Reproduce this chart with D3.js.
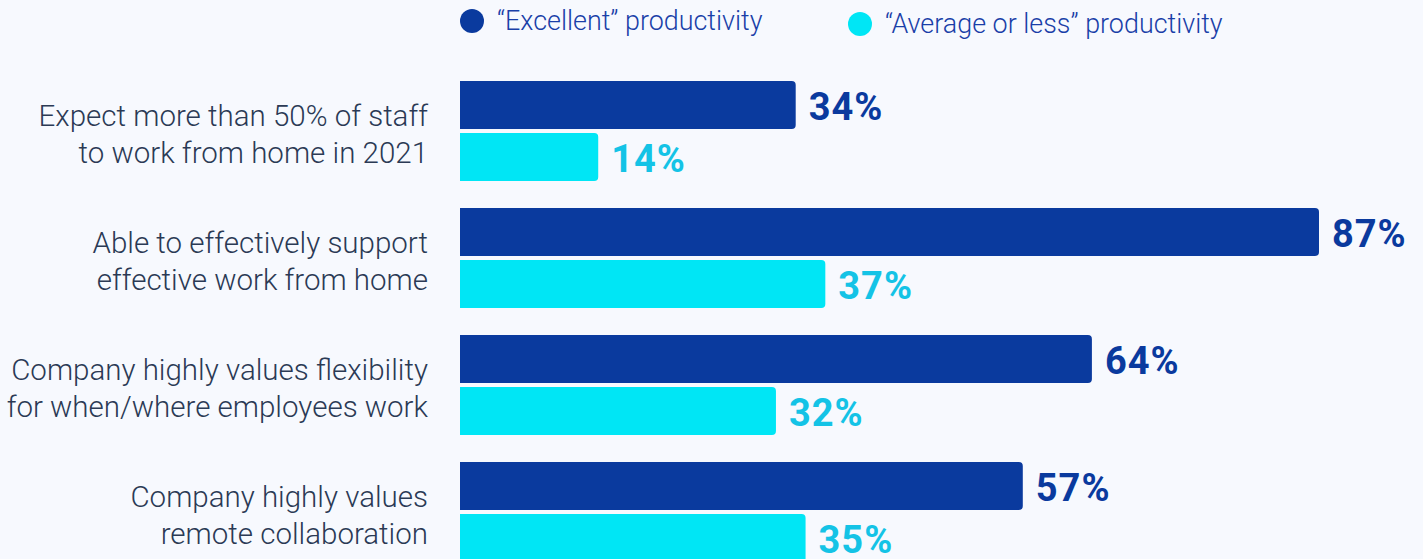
<!DOCTYPE html>
<html>
<head>
<meta charset="utf-8">
<script src="https://cdn.jsdelivr.net/npm/d3@7"></script>
<style>
  html, body { margin: 0; padding: 0; background: #f7f9fe; }
  svg { display: block; font-family: Roboto, "Noto Sans", sans-serif; }
</style>
</head>
<body>
<div id="chart"></div>
<script>
// data
var categories = [
  'Expect more than 50% of staff\nto work from home in 2021',
  'Able to effectively support\neffective work from home',
  'Company highly values flexibility\nfor when/where employees work',
  'Company highly values\nremote collaboration'
];
var seriesNames = ['\u201CExcellent\u201D productivity', '\u201CAverage or less\u201D productivity'];
var excellent = [34, 87, 64, 57];
var averageOrLess = [14, 37, 32, 35];

var W = 1423, H = 559;
var barColors = ['#0a3a9e', '#00e6f5'];
var labelColors = ['#0a3a9e', '#14c3e6'];

var svg = d3.select('#chart')
  .append('svg')
  .attr('width', W)
  .attr('height', H);

svg.append('rect')
  .attr('width', W)
  .attr('height', H)
  .attr('fill', '#f7f9fe');

var x = d3.scaleLinear()
  .domain([0, 87])
  .range([460, 1319]);

var y0 = d3.scaleBand()
  .domain(categories)
  .range([81, 81 + 127 * (4 - 0.2126)])
  .paddingInner(0.2126)
  .paddingOuter(0);

var y1 = d3.scaleBand()
  .domain([0, 1])
  .range([0, y0.bandwidth()])
  .paddingInner(0.08);

var rows = categories.map(function(c, i) {
  return { cat: c, values: [excellent[i], averageOrLess[i]] };
});

var group = svg.selectAll('g.row')
  .data(rows)
  .enter()
  .append('g')
  .attr('class', 'row')
  .attr('transform', d => 'translate(0,' + y0(d.cat) + ')');

// bar with rounded right end only
function barPath(x0, x1, y, h, r) {
  return 'M' + x0 + ',' + y +
    'H' + (x1 - r) +
    'Q' + x1 + ',' + y + ' ' + x1 + ',' + (y + r) +
    'V' + (y + h - r) +
    'Q' + x1 + ',' + (y + h) + ' ' + (x1 - r) + ',' + (y + h) +
    'H' + x0 + 'Z';
}

var bars = group.selectAll('g.bar')
  .data(d => d.values.map((v, k) => ({ v: v, k: k })))
  .enter()
  .append('g')
  .attr('class', 'bar');

bars.append('path')
  .attr('d', d => barPath(x(0), x(d.v), y1(d.k), y1.bandwidth(), 4))
  .attr('fill', d => barColors[d.k]);

bars.append('text')
  .attr('x', d => x(d.v) + 13)
  .attr('y', d => y1(d.k) + y1.bandwidth() / 2 + 2)
  .attr('dy', '0.35em')
  .attr('font-size', 38)
  .attr('font-weight', 700)
  .attr('letter-spacing', 1)
  .attr('fill', d => labelColors[d.k])
  .text(d => d.v + '%');

// category labels
group.append('text')
  .attr('text-anchor', 'end')
  .attr('font-size', 29.5)
  .attr('font-weight', 300)
  .attr('fill', '#2b3a55')
  .selectAll('tspan')
  .data(d => d.cat.split('\n'))
  .enter()
  .append('tspan')
  .attr('x', 428)
  .attr('y', (d, i, all) => y0.bandwidth() / 2 + 3 + (i - (all.length - 1) / 2) * 37)
  .attr('dy', '0.35em')
  .text(d => d);

// legend
var legendX = [472, 860];
var legend = svg.selectAll('g.legend')
  .data(seriesNames)
  .enter()
  .append('g')
  .attr('class', 'legend')
  .attr('transform', (d, i) => 'translate(' + legendX[i] + ',' + (i === 0 ? 21 : 24) + ')');

legend.append('circle')
  .attr('r', 12)
  .attr('fill', (d, i) => barColors[i]);

legend.append('text')
  .attr('x', 25)
  .attr('dy', '0.35em')
  .attr('font-size', 26.9)
  .attr('font-weight', 300)
  .attr('fill', '#1a3fa8')
  .text(d => d);
</script>
</body>
</html>
